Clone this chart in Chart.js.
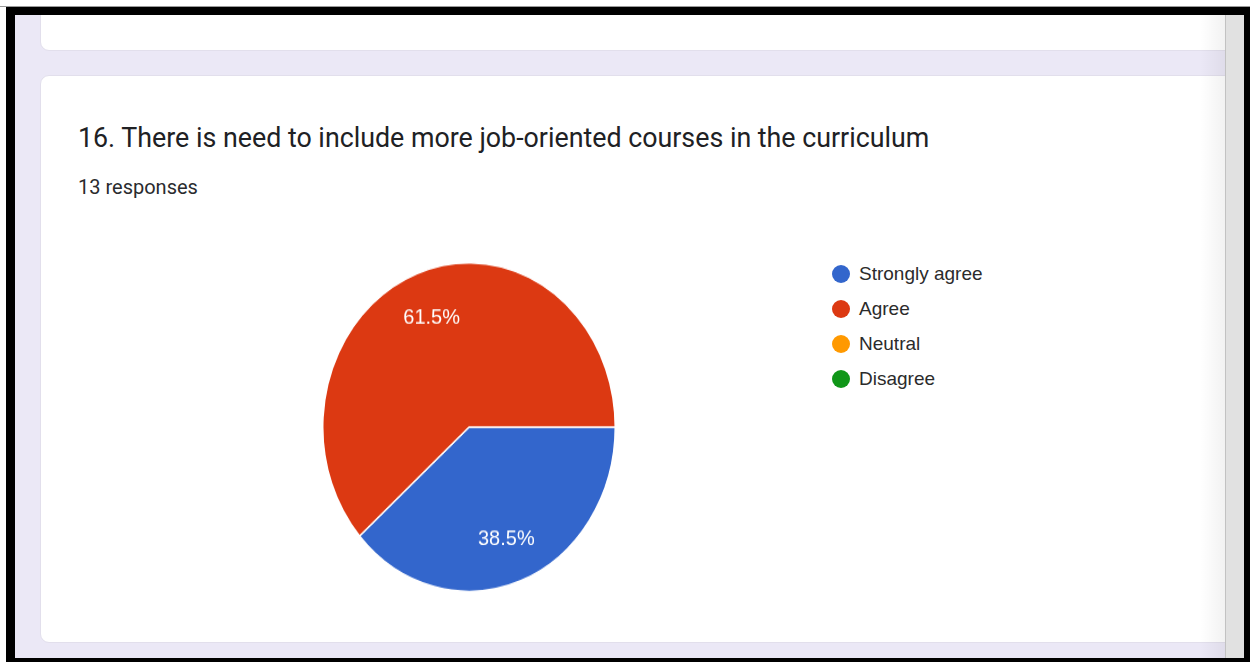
<!DOCTYPE html>
<html>
<head>
<meta charset="utf-8">
<script src="https://cdn.jsdelivr.net/npm/chart.js@4.4.1/dist/chart.umd.min.js"></script>
<style>
  html, body { margin: 0; padding: 0; }
  body { width: 1250px; height: 662px; background: #fff; position: relative; overflow: hidden; }
  .topline { position: absolute; left: 0; top: 6px; width: 1250px; height: 1px; background: #9a9a9a; }
  .frame { position: absolute; left: 6px; top: 7px; width: 1250px; height: 660px; background: #000; }
  .page { position: absolute; left: 15px; top: 15px; width: 1229px; height: 643px; background: #ebe8f6; overflow: hidden; }
  .card { position: absolute; background: #fff; border: 1px solid #e2dfec; border-radius: 9px; box-sizing: border-box; }
  .card-top { left: 25px; top: -30px; width: 1220px; height: 66px; }
  .card-main { left: 25px; top: 60px; width: 1220px; height: 568px; }
  .fade { position: absolute; left: 1185px; top: 0; width: 25px; height: 643px;
          background: linear-gradient(to right, rgba(0,0,0,0), rgba(0,0,0,0.05)); }
  .scrollbar { position: absolute; left: 1210px; top: 0; width: 19px; height: 643px; background: #e1e1e1; border-left: 1px solid #c2c2c2; box-sizing: border-box; }
  .title { position: absolute; left: 78px; top: 125px; font: 26.8px/27px Roboto, "Noto Sans", sans-serif; color: #202124; white-space: nowrap; }
  .sub { position: absolute; left: 78px; top: 177px; font: 20px/20px Roboto, "Noto Sans", sans-serif; color: #2a2b2e; white-space: nowrap; }
  .pie-wrap { position: absolute; left: 322px; top: 262px; width: 294px; height: 294px; transform: scaleY(1.123); transform-origin: 0 0; }
  .legend { position: absolute; left: 832px; top: 256px; }
  .legend-row { display: flex; align-items: center; height: 35px; }
  .legend-dot { width: 18px; height: 18px; border-radius: 50%; margin-right: 9px; }
  .legend-text { font: 19px/19px "Liberation Sans", Arial, sans-serif; color: #2b2b2b; white-space: nowrap; }
</style>
</head>
<body>
<div class="topline"></div>
<div class="frame"></div>
<div class="page">
  <div class="card card-top"></div>
  <div class="card card-main"></div>
  <div class="fade"></div>
  <div class="scrollbar"></div>
</div>
<div class="title" id="title"></div>
<div class="sub" id="sub"></div>
<div class="pie-wrap"><canvas id="pie" width="294" height="294"></canvas></div>
<div class="legend" id="legend"></div>
<script>
const questionTitle = "16. There is need to include more job-oriented courses in the curriculum";
const responseCount = "13 responses";
const categories = ["Strongly agree", "Agree", "Neutral", "Disagree"];
const responses = [5, 8, 0, 0];
const sliceColors = ["#3366cc", "#dc3912", "#ff9900", "#109618"];
const stretchY = 1.123;

document.getElementById("title").textContent = questionTitle;
document.getElementById("sub").textContent = responseCount;

// legend built from the same arrays
const legendBox = document.getElementById("legend");
categories.forEach((name, i) => {
  const row = document.createElement("div");
  row.className = "legend-row";
  const dot = document.createElement("span");
  dot.className = "legend-dot";
  dot.style.background = sliceColors[i];
  const txt = document.createElement("span");
  txt.className = "legend-text";
  txt.textContent = name;
  row.appendChild(dot);
  row.appendChild(txt);
  legendBox.appendChild(row);
});

/** percent labels inside the slices */
const sliceLabels = {
  id: "sliceLabels",
  afterDatasetsDraw(chart) {
    const ctx = chart.ctx;
    const meta = chart.getDatasetMeta(0);
    const total = responses.reduce((a, b) => a + b, 0);
    ctx.save();
    ctx.fillStyle = "#ffffff";
    ctx.font = "20px 'Liberation Sans', Arial, sans-serif";
    ctx.textAlign = "center";
    ctx.textBaseline = "middle";
    meta.data.forEach((arc, i) => {
      if (!responses[i]) return;
      const { x, y, startAngle, endAngle, outerRadius } =
        arc.getProps(["x", "y", "startAngle", "endAngle", "outerRadius"], true);
      const mid = (startAngle + endAngle) / 2;
      const r = outerRadius * 0.72;
      ctx.save();
      ctx.translate(x + Math.cos(mid) * r, y + Math.sin(mid) * r + 1.5);
      ctx.scale(1, 1 / stretchY);
      ctx.fillText((responses[i] / total * 100).toFixed(1) + "%", 0, 0);
      ctx.restore();
    });
    ctx.restore();
  }
};

const pieCtx = document.getElementById("pie").getContext("2d");
const chart = new Chart(pieCtx, {
  type: "pie",
  plugins: [sliceLabels],
  data: {
    labels: categories,
    datasets: [{
      data: responses,
      backgroundColor: sliceColors,
      borderColor: "#ffffff",
      borderWidth: 1.5
    }]
  },
  options: {
    responsive: false,
    animation: false,
    rotation: 90,
    layout: { padding: 0 },
    plugins: {
      legend: { display: false },
      tooltip: { enabled: false }
    }
  }
});
</script>
</body>
</html>
